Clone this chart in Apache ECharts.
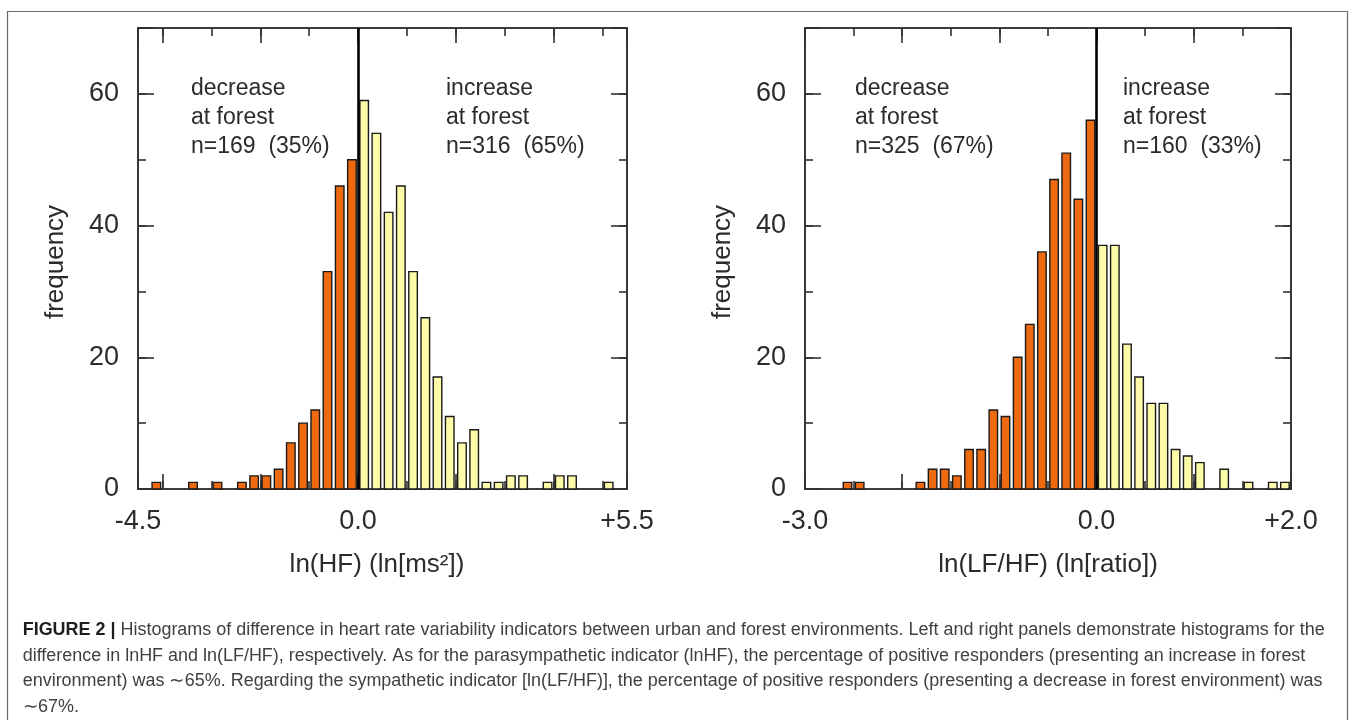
<!DOCTYPE html>
<html><head><meta charset="utf-8">
<script src="https://cdn.jsdelivr.net/npm/echarts@6/dist/echarts.min.js"></script>
<style>html,body{margin:0;padding:0;background:#fff}#c{width:1355px;height:720px}</style>
</head><body><div id="c"></div>
<script>
// ---------------- data ----------------
const hfBinWidth = 0.25;
const hfDecreaseCenters = [-4.125,-3.375,-2.875,-2.375,-2.125,-1.875,-1.625,-1.375,-1.125,-0.875,-0.625,-0.375,-0.125];
const hfDecreaseCounts  = [1,1,1,1,2,2,3,7,10,12,33,46,50];
const hfIncreaseCenters = [0.125,0.375,0.625,0.875,1.125,1.375,1.625,1.875,2.125,2.375,2.625,2.875,3.125,3.375,3.875,4.125,4.375,5.125];
const hfIncreaseCounts  = [59,54,42,46,33,26,17,11,7,9,1,1,2,2,1,2,2,1];

const lfhfBinWidth = 0.125;
const lfhfDecreaseCenters = [-2.5625,-2.4375,-1.8125,-1.6875,-1.5625,-1.4375,-1.3125,-1.1875,-1.0625,-0.9375,-0.8125,-0.6875,-0.5625,-0.4375,-0.3125,-0.1875,-0.0625];
const lfhfDecreaseCounts  = [1,1,1,3,3,2,6,6,12,11,20,25,36,47,51,44,56];
const lfhfIncreaseCenters = [0.0625,0.1875,0.3125,0.4375,0.5625,0.6875,0.8125,0.9375,1.0625,1.3125,1.5625,1.8125,1.9375];
const lfhfIncreaseCounts  = [37,37,22,17,13,13,6,5,4,3,1,1,1];

const hfTickValues = [-4.5, 0, 5.5];
const hfTickLabels = ['-4.5', '0.0', '+5.5'];
const lfhfTickValues = [-3, 0, 2];
const lfhfTickLabels = ['-3.0', '0.0', '+2.0'];
const freqTickValues = [0, 20, 40, 60];
const freqTickLabels = ['0', '20', '40', '60'];

const hfAnnotLeft  = ['decrease', 'at forest', 'n=169  (35%)'];
const hfAnnotRight = ['increase', 'at forest', 'n=316  (65%)'];
const lfhfAnnotLeft  = ['decrease', 'at forest', 'n=325  (67%)'];
const lfhfAnnotRight = ['increase', 'at forest', 'n=160  (33%)'];

const hfAxisName = 'ln(HF) (ln[ms²])';
const lfhfAxisName = 'ln(LF/HF) (ln[ratio])';
const yAxisName = 'frequency';

const captionBold = 'FIGURE 2 |';
const captionLines = [
  ' Histograms of difference in heart rate variability indicators between urban and forest environments. Left and right panels demonstrate histograms for the',
  'difference in lnHF and ln(LF/HF), respectively. As for the parasympathetic indicator (lnHF), the percentage of positive responders (presenting an increase in forest',
  'environment) was \u223C65%. Regarding the sympathetic indicator [ln(LF/HF)], the percentage of positive responders (presenting a decrease in forest environment) was',
  '\u223C67%.'
];

// ---------------- style ----------------
const FONT = '"Liberation Sans", Arial, Helvetica, sans-serif';
const AX = '#303030';
const TXT = '#2b2b2b';
const ORANGE = '#ee6a10';
const YELLOW = '#fdfba8';

function binsData(centers, counts, bw) {
  return centers.map((c, i) => [c - bw / 2, c + bw / 2, counts[i]]);
}
function barSeries(xi, yi, data, color, withZero) {
  const s = {
    type: 'custom', xAxisIndex: xi, yAxisIndex: yi, data: data,
    encode: { x: [0, 1], y: 2 }, silent: true, animation: false, z: 3,
    renderItem: function (params, api) {
      const x0 = api.value(0), x1 = api.value(1), v = api.value(2);
      const pad = (x1 - x0) * 0.15;
      const a = api.coord([x0 + pad, v]);
      const b = api.coord([x1 - pad, 0]);
      return {
        type: 'rect',
        shape: { x: a[0], y: a[1], width: b[0] - a[0], height: b[1] - a[1] },
        style: { fill: color, stroke: '#1a1a1a', lineWidth: 1.4 }
      };
    }
  };
  if (withZero) {
    s.markLine = {
      silent: true, symbol: ['none', 'none'], label: { show: false }, animation: false,
      lineStyle: { color: '#000', width: 2.6, type: 'solid' },
      data: [{ xAxis: 0 }]
    };
  }
  return s;
}
function labelFmt(vals, labels) {
  return function (v) {
    const i = vals.findIndex(t => Math.abs(t - v) < 1e-6);
    return i < 0 ? '' : labels[i];
  };
}
function tick(len) {
  return { show: true, inside: true, length: len, lineStyle: { color: AX, width: 1.6 } };
}
function baseAxis(g, min, max) {
  return {
    type: 'value', gridIndex: g, min: min, max: max,
    splitLine: { show: false },
    axisLine: { show: true, onZero: false, lineStyle: { color: AX, width: 1.6 } }
  };
}
function xAxisSet(g, min, max, major, minor, vals, labels) {
  return [
    Object.assign(baseAxis(g, min, max), major, { position: 'bottom', axisTick: tick(15),
      axisLabel: { show: true, formatter: labelFmt(vals, labels), margin: 19, fontSize: 27,
        color: TXT, fontFamily: FONT, showMinLabel: true, showMaxLabel: true } }),
    Object.assign(baseAxis(g, min, max), minor, { position: 'bottom', axisTick: tick(8), axisLabel: { show: false } }),
    Object.assign(baseAxis(g, min, max), major, { position: 'top', axisTick: tick(15), axisLabel: { show: false } }),
    Object.assign(baseAxis(g, min, max), minor, { position: 'top', axisTick: tick(8), axisLabel: { show: false } })
  ];
}
function yAxisSet(g) {
  return [
    Object.assign(baseAxis(g, 0, 70), { interval: 20, position: 'left', axisTick: tick(16),
      axisLabel: { show: true, formatter: labelFmt(freqTickValues, freqTickLabels), margin: 19, fontSize: 27,
        color: TXT, fontFamily: FONT, showMinLabel: true, showMaxLabel: true } }),
    Object.assign(baseAxis(g, 0, 70), { interval: 10, position: 'left', axisTick: tick(8), axisLabel: { show: false } }),
    Object.assign(baseAxis(g, 0, 70), { interval: 20, position: 'right', axisTick: tick(16), axisLabel: { show: false } }),
    Object.assign(baseAxis(g, 0, 70), { interval: 10, position: 'right', axisTick: tick(8), axisLabel: { show: false } })
  ];
}

// caption width fitting (condensed look)
const CAP_SIZE = 17.5;
const mctx = document.createElement('canvas').getContext('2d');
mctx.font = 'bold ' + CAP_SIZE + 'px ' + FONT;
const wBold = mctx.measureText(captionBold).width;
mctx.font = CAP_SIZE + 'px ' + FONT;
const wRest = mctx.measureText(captionLines[0]).width;
const capScale = 1302 / (wBold + wRest);

function annot(lines, x) {
  return lines.map((t, i) => ({
    type: 'text', x: x, y: 89 + i * 29, silent: true,
    style: { text: t, fontSize: 23, fontFamily: FONT, fill: TXT, align: 'left', verticalAlign: 'middle' }
  }));
}

const graphics = [].concat(
  [{ type: 'rect', shape: { x: 7.5, y: 11.5, width: 1340, height: 720 }, silent: true,
     style: { fill: 'none', stroke: '#6a6a6a', lineWidth: 1.2 } }],
  annot(hfAnnotLeft, 191), annot(hfAnnotRight, 446),
  annot(lfhfAnnotLeft, 855), annot(lfhfAnnotRight, 1123),
  [
    { type: 'text', x: 56, y: 262, rotation: Math.PI / 2, silent: true,
      style: { text: yAxisName, fontSize: 26, fontFamily: FONT, fill: TXT, align: 'center', verticalAlign: 'middle' } },
    { type: 'text', x: 723, y: 262, rotation: Math.PI / 2, silent: true,
      style: { text: yAxisName, fontSize: 26, fontFamily: FONT, fill: TXT, align: 'center', verticalAlign: 'middle' } },
    { type: 'text', x: 377, y: 565, silent: true,
      style: { text: hfAxisName, fontSize: 26, fontFamily: FONT, fill: TXT, align: 'center', verticalAlign: 'middle' } },
    { type: 'text', x: 1048, y: 565, silent: true,
      style: { text: lfhfAxisName, fontSize: 26, fontFamily: FONT, fill: TXT, align: 'center', verticalAlign: 'middle' } }
  ],
  captionLines.map((t, i) => ({
    type: 'text', x: 22.7, y: 630 + i * 25.7, scaleX: capScale, scaleY: 1, silent: true,
    style: i === 0 ? {
      text: '{b|' + captionBold + '}' + t, fontSize: CAP_SIZE, fontFamily: FONT, fill: '#404040',
      align: 'left', verticalAlign: 'middle',
      rich: { b: { fontWeight: 'bold', fontSize: CAP_SIZE, fontFamily: FONT, fill: '#1e1e1e', color: '#1e1e1e' } }
    } : { text: t, fontSize: CAP_SIZE, fontFamily: FONT, fill: '#404040', align: 'left', verticalAlign: 'middle' }
  }))
);

const option = {
  animation: false,
  backgroundColor: '#ffffff',
  grid: [
    { left: 138, top: 28, width: 489, height: 461, containLabel: false },
    { left: 805, top: 28, width: 486, height: 461, containLabel: false }
  ],
  xAxis: [].concat(
    xAxisSet(0, -4.5, 5.5, { splitNumber: 5 }, { splitNumber: 10 }, hfTickValues, hfTickLabels),
    xAxisSet(1, -3, 2, { interval: 1 }, { interval: 0.5 }, lfhfTickValues, lfhfTickLabels)
  ),
  yAxis: [].concat(yAxisSet(0), yAxisSet(1)),
  series: [
    barSeries(0, 0, binsData(hfDecreaseCenters, hfDecreaseCounts, hfBinWidth), ORANGE, false),
    barSeries(0, 0, binsData(hfIncreaseCenters, hfIncreaseCounts, hfBinWidth), YELLOW, true),
    barSeries(4, 4, binsData(lfhfDecreaseCenters, lfhfDecreaseCounts, lfhfBinWidth), ORANGE, false),
    barSeries(4, 4, binsData(lfhfIncreaseCenters, lfhfIncreaseCounts, lfhfBinWidth), YELLOW, true)
  ],
  graphic: graphics
};
const chart = echarts.init(document.getElementById('c'));
chart.setOption(option);
</script>
</body></html>
